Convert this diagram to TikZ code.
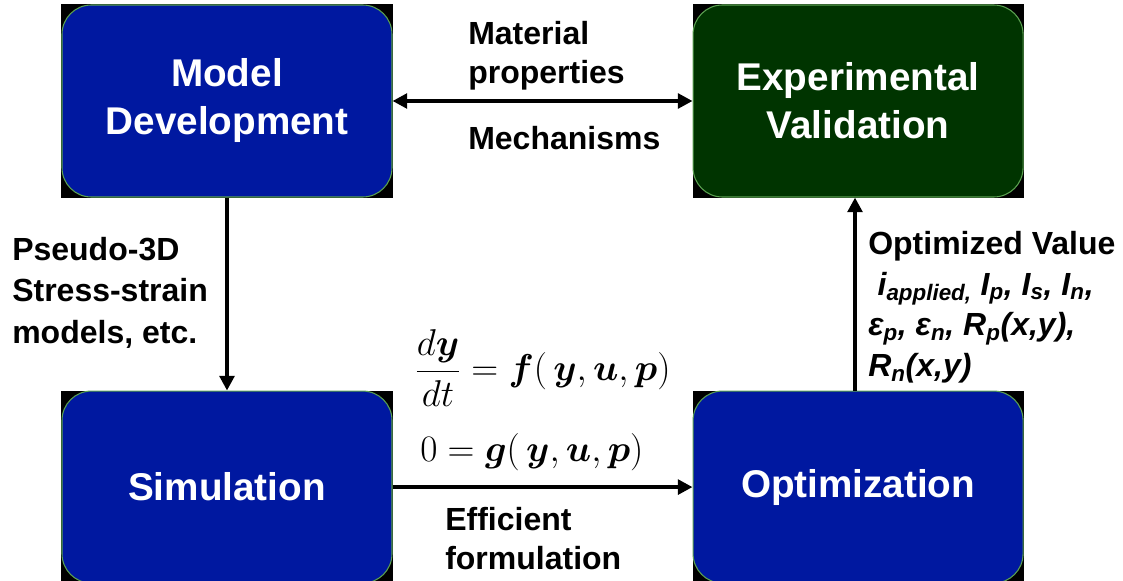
\RequirePackage{fix-cm}
\documentclass[tikz,border=0pt]{standalone}
\usepackage{amsmath,bm}
\usepackage{fontspec}
\setmainfont{Liberation Sans}
\usepackage{tikz}
\usetikzlibrary{arrows.meta, positioning, backgrounds}

\definecolor{boxblue}{RGB}{0,24,160}
\definecolor{boxgreen}{RGB}{0,52,0}
\definecolor{rimgreen}{RGB}{90,160,80}

\begin{document}
\begin{tikzpicture}[
  x=0.75pt, y=-0.75pt,
  block/.style={rectangle, draw=rimgreen, line width=0.8pt, rounded corners=22pt, fill=boxblue, text=white, minimum width=247.5pt, minimum height=144pt, align=center, font=\fontsize{29}{36}\selectfont\bfseries},
  note/.style={anchor=north west, inner sep=0pt, align=left, font=\fontsize{24}{29}\selectfont\bfseries},
  eq/.style={anchor=west, inner sep=0pt, font=\fontsize{28}{34}\selectfont},
  link/.style={line width=2.8pt, -{Triangle[length=11pt,width=11pt]}}
]
\useasboundingbox (0,0) rectangle (1123,581);

\node[block] (model) at (227,101) {Model\\Development};
\node[block, fill=boxgreen, right=225pt of model] (valid) {Experimental\\Validation};
\node[block, below=144.75pt of model] (sim) {Simulation};
\node[block, below=144.75pt of valid] (opt) {Optimization};

% black frames showing at the corners
\begin{scope}[on background layer]
\foreach \b in {model, valid, sim, opt}
  \fill[black] (\b.south west) rectangle (\b.north east);
\end{scope}

\draw[link, {Triangle[length=11pt,width=11pt]}-{Triangle[length=11pt,width=11pt]}] (model) -- (valid);
\draw[link] (model) -- (sim);
\draw[link] (sim) -- (opt);
\draw[link] (opt.north -| 855,0) -- (valid.south -| 855,0);

\node[note] (matl) at (468,21) {Material\\properties};
\node[note] (mech) at (468,126) {Mechanisms};
\node[note, font=\fontsize{24}{31}\selectfont\bfseries] (p3d) at (12,237) {Pseudo-3D\\Stress-strain\\models, etc.};
\node[note] (eff) at (445,507) {Efficient\\formulation};
\node[note, font=\fontsize{24}{30.5}\selectfont\bfseries] (optval) at (868,231)
  {Optimized Value\\
   \hspace{7pt}\textit{i\textsubscript{applied,} I\textsubscript{p}, I\textsubscript{s}, I\textsubscript{n},}\\
   \textit{ε\textsubscript{p}, ε\textsubscript{n}, R\textsubscript{p}(x,y),}\\
   \textit{R\textsubscript{n}(x,y)}};
\node[eq] (eqf) at (415,368) {$\displaystyle \frac{d\bm{y}}{dt} = \bm{f}(\,\bm{y},\bm{u},\bm{p})$};
\node[eq] (eqg) at (420,452) {$0 = \bm{g}(\,\bm{y},\bm{u},\bm{p})$};
\end{tikzpicture}
\end{document}
